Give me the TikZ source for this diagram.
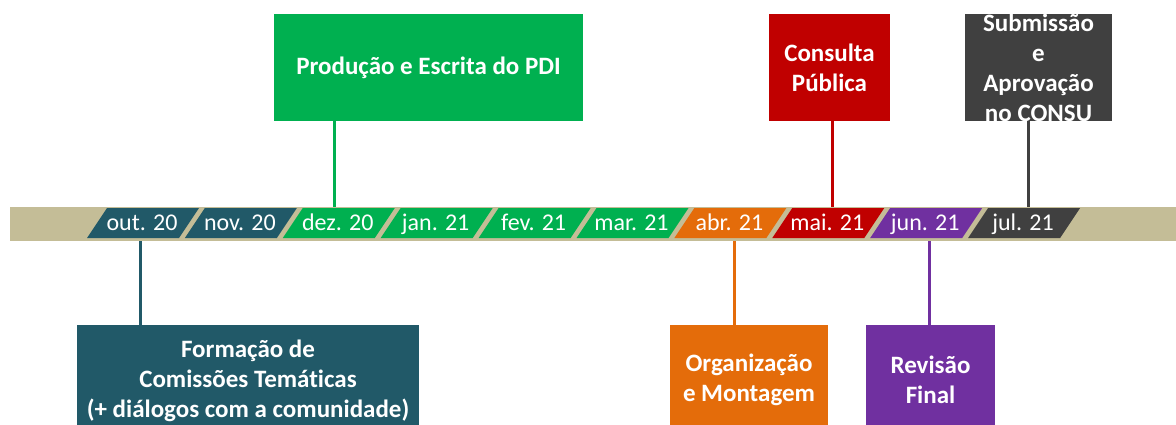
\documentclass[tikz,border=0pt]{standalone}
\usepackage{fontspec}
\setmainfont[Ligatures=NoCommon]{Carlito}

\definecolor{barcol}{HTML}{C4BD97}
\definecolor{cteal}{HTML}{215968}
\definecolor{cgreen}{HTML}{00B050}
\definecolor{corange}{HTML}{E46C0A}
\definecolor{cred}{HTML}{C00000}
\definecolor{cpurple}{HTML}{7030A0}
\definecolor{cgray}{HTML}{404040}

\begin{document}
\begin{tikzpicture}[x=1pt,y=-1pt]

	\tikzstyle{evt}  = [rectangle, inner sep=0pt, text=white, align=center, font=\fontsize{25}{30}\selectfont\bfseries]
	\tikzstyle{mon}  = [inner sep=0pt, minimum width=72pt, minimum height=34pt, text height=14pt, text depth=2pt, text=white, font=\fontsize{24}{30}\selectfont]
	\tikzstyle{link} = [line width=3pt]

	\useasboundingbox (0,0) rectangle (1176,425);
	\clip (0,0) rectangle (1176,425);

	\fill [barcol] (10,207) rectangle (1176,241);

	\foreach \name/\col [count=\i from 0] in {out. 20/cteal, nov. 20/cteal, dez. 20/cgreen, jan. 21/cgreen, fev. 21/cgreen, mar. 21/cgreen, abr. 21/corange, mai. 21/cred, jun. 21/cpurple, jul. 21/cgray}
	{
		\fill [\col] ({107+97.9*\i},208) -- ++(92,0) -- ++(-20,30) -- ++(-92,0) -- cycle;
		\node [mon] (m\i) at ({142+97.9*\i},224) {\name};
	}

	\node [evt, fill=cgreen, minimum width=309pt, minimum height=107pt] (prod) at (428.5,67.5) {Produção e Escrita do PDI};
	\node [evt, fill=cred, minimum width=121pt, minimum height=107pt] (cons) at (829.5,67.5) {Consulta\\Pública};
	\node [evt, fill=cgray, minimum width=147pt, minimum height=107pt] (subm) at (1038.5,67.5) {};
	\node [evt] (submtxt) at (subm) {Submissão\\e\\Aprovação\\no CONSU};

	\node [evt, fill=cteal, minimum width=342pt, minimum height=112pt] (form) at (248,381) {Formação de\\Comissões Temáticas\\(+ diálogos com a comunidade)};
	\node [evt, fill=corange, minimum width=158pt, minimum height=110pt] (orga) at (749,380) {Organização\\e Montagem};
	\node [evt, fill=cpurple, minimum width=129pt, minimum height=110pt] (revi) at (930.5,380) {Revisão\\Final};

	\draw [link, cgreen]  ([xshift=-3pt]prod.south -| m2) -- ([xshift=-3pt]m2.north);
	\draw [link, cred]    ([xshift=5pt]cons.south -| m7) -- ([xshift=5pt]m7.north);
	\draw [link, cgray]   ([xshift=5pt]subm.south -| m9) -- ([xshift=5pt]m9.north);
	\draw [link, cteal]   ([xshift=-2pt]m0.south) -- ([xshift=-2pt]form.north -| m0);
	\draw [link, corange] ([xshift=5pt]m6.south) -- ([xshift=5pt]orga.north -| m6);
	\draw [link, cpurple] ([xshift=4pt]m8.south) -- ([xshift=4pt]revi.north -| m8);

\end{tikzpicture}
\end{document}
